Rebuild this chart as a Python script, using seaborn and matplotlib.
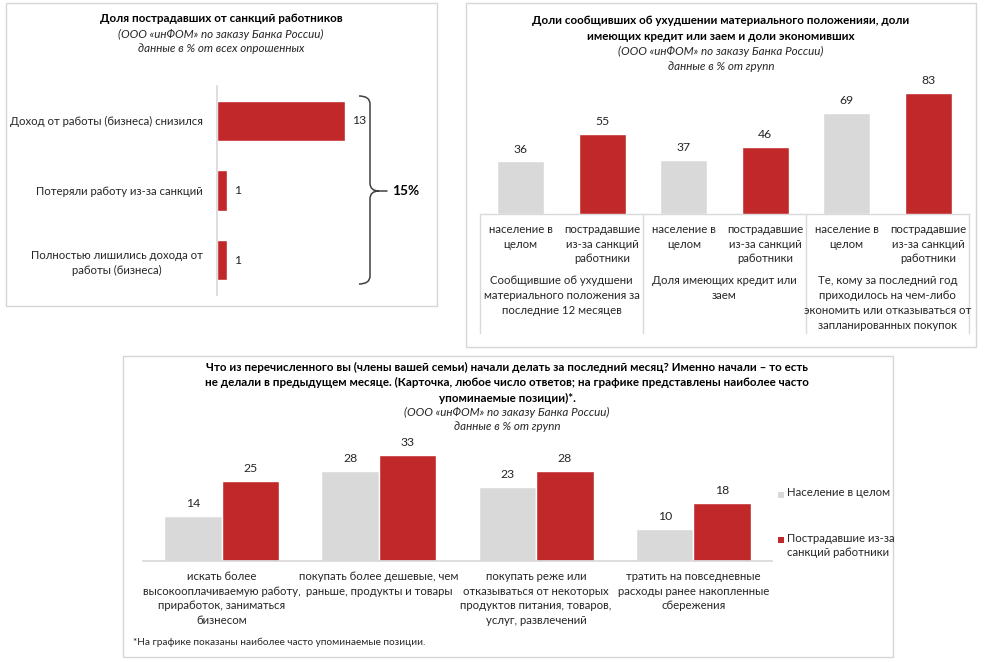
import matplotlib
matplotlib.use("Agg")
import matplotlib.pyplot as plt
import seaborn as sns
import pandas as pd
from matplotlib.patches import Rectangle, PathPatch
from matplotlib.path import Path

sns.set_theme(style="white")
plt.rcParams['font.family'] = ['Lato', 'DejaVu Sans']

W, H = 986, 662
RED = '#C0282A'
GRAY = '#D9D9D9'
TXT = '#262626'
BORDER = '#D6D6D6'
FS = 8.2
VFS = 8.8
LS = 1.42

# ---------------- data ----------------
p1_categories = ["Доход от работы (бизнеса) снизился",
                 "Потеряли работу из-за санкций",
                 "Полностью лишились дохода от\nработы (бизнеса)"]
p1_values = [13, 1, 1]
p1_total = "15%"

p2_bar_labels = ["население в\nцелом", "пострадавшие\nиз-за санкций\nработники"] * 3
p2_series = ["население в целом", "пострадавшие из-за санкций работники"] * 3
p2_values = [36, 55, 37, 46, 69, 83]
p2_groups = ["Сообщившие об ухудшени\nматериального положения за\nпоследние 12 месяцев",
             "Доля имеющих кредит или\nзаем",
             "Те, кому за последний год\nприходилось на чем-либо\nэкономить или отказываться от\nзапланированных покупок"]

p3_categories = ["искать более\nвысокооплачиваемую работу,\nприработок, заниматься\nбизнесом",
                 "покупать более дешевые, чем\nраньше, продукты и товары",
                 "покупать реже или\nотказываться от некоторых\nпродуктов питания, товаров,\nуслуг, развлечений",
                 "тратить на повседневные\nрасходы ранее накопленные\nсбережения"]
p3_series = ["Население в целом", "Пострадавшие из-за\nсанкций работники"]
p3_population = [14, 28, 23, 10]
p3_affected = [25, 33, 28, 18]

p1_title = ["Доля пострадавших от санкций работников"]
p1_sub = ["(ООО «инФОМ» по заказу Банка России)", "данные в % от всех опрошенных"]
p2_title = ["Доли сообщивших об ухудшении материального положенияи, доли",
            "имеющих кредит или заем и доли экономивших"]
p2_sub = ["(ООО «инФОМ» по заказу Банка России)", "данные в % от групп"]
p3_title = ["Что из перечисленного вы (члены вашей семьи) начали делать за последний месяц? Именно начали – то есть",
            "не делали в предыдущем месяце. (Карточка, любое число ответов; на графике представлены наиболее часто",
            "упоминаемые позиции)*."]
p3_sub = ["(ООО «инФОМ» по заказу Банка России)", "данные в % от групп"]
footnote = "*На графике показаны наиболее часто упоминаемые позиции."

# ---------------- figure ----------------
fig = plt.figure(figsize=(W / 100, H / 100), dpi=100)
fig.patch.set_facecolor('white')


def fax(x0, y0, x1, y1):
    return fig.add_axes([x0 / W, 1 - y1 / H, (x1 - x0) / W, (y1 - y0) / H])


ov = fax(0, 0, W, H)
ov.set_xlim(0, W)
ov.set_ylim(H, 0)
ov.axis('off')

# panel boxes
for (x0, y0, x1, y1) in [(6, 3, 437, 306), (466, 3, 976, 347), (123, 356, 893, 657)]:
    ov.add_patch(Rectangle((x0, y0), x1 - x0, y1 - y0, fill=False, ec=BORDER, lw=1))


def title_block(cx, ys_bold, bold_lines, ys_it, it_lines):
    for y, t in zip(ys_bold, bold_lines):
        ov.text(cx, y, t, ha='center', va='center', fontsize=8.4, fontweight='bold', color='black')
    for y, t in zip(ys_it, it_lines):
        ov.text(cx, y, t, ha='center', va='center', fontsize=8.4, fontstyle='italic', color=TXT)


title_block(221, [19], p1_title, [34, 48], p1_sub)
title_block(721, [20, 36], p2_title, [51, 66], p2_sub)
title_block(507, [367, 382, 398], p3_title, [412, 427], p3_sub)

# ---------------- panel 1 ----------------
ax1 = fax(217, 86, 437, 295)
df1 = pd.DataFrame({"category": p1_categories, "value": p1_values})
sns.barplot(data=df1, x="value", y="category", color=RED, width=0.58, orient='h',
            ax=ax1, saturation=1)
ax1.set_xlim(0, 22.3)
ax1.patch.set_alpha(0)
for s in ['top', 'right', 'bottom']:
    ax1.spines[s].set_visible(False)
ax1.spines['left'].set_color('#D9D9D9')
ax1.set_xticks([])
ax1.set_xlabel('')
ax1.set_ylabel('')
ax1.tick_params(axis='y', length=0, pad=10, labelsize=FS, labelcolor=TXT)
for lab in ax1.get_yticklabels():
    lab.set_multialignment('center')
    lab.set_linespacing(LS)
ax1.bar_label(ax1.containers[0], padding=5, fontsize=VFS, color=TXT)

# brace
verts = [(359, 96), (370, 96), (370, 104), (370, 183), (370, 191), (379, 191),
         (370, 191), (370, 199), (370, 276), (370, 284), (359, 284)]
codes = [Path.MOVETO, Path.CURVE3, Path.CURVE3, Path.LINETO, Path.CURVE3, Path.CURVE3,
         Path.CURVE3, Path.CURVE3, Path.LINETO, Path.CURVE3, Path.CURVE3]
ov.add_patch(PathPatch(Path(verts, codes), fill=False, ec='#404040', lw=1.1))
ov.plot([379, 387], [191, 191], color='#404040', lw=1.1)
ov.text(392, 191, p1_total, ha='left', va='center', fontsize=9.8, fontweight='bold', color='black')

# ---------------- panel 2 ----------------
ax2 = fax(480, 80, 969, 214)
df2 = pd.DataFrame({"pos": list(range(6)), "value": p2_values, "series": p2_series})
sns.barplot(data=df2, x="pos", y="value", hue="series", palette=[GRAY, RED], dodge=False,
            width=0.58, legend=False, ax=ax2, saturation=1)
ax2.set_ylim(0, 91.8)
ax2.set_xlim(-0.5, 5.5)
ax2.patch.set_alpha(0)
for s in ['top', 'right', 'left', 'bottom']:
    ax2.spines[s].set_visible(False)
ax2.set_yticks([])
ax2.set_xlabel('')
ax2.set_ylabel('')
ax2.set_xticks(range(6))
ax2.set_xticklabels(p2_bar_labels)
ax2.tick_params(axis='x', length=0, pad=7, labelsize=FS, labelcolor=TXT)
for lab in ax2.get_xticklabels():
    lab.set_linespacing(LS)
for c in ax2.containers:
    ax2.bar_label(c, padding=5, fontsize=VFS, color=TXT)

# group frame lines
LC = '#D9D9D9'
ov.plot([480, 969], [214, 214], color=LC, lw=1)
for x in [480, 643, 806, 969]:
    ov.plot([x, x], [214, 333], color=LC, lw=1)
for i, g in enumerate(p2_groups):
    cx = 480 + 163 * (i + 0.5)
    ov.text(cx, 275.5, g, ha='center', va='top', fontsize=FS, color=TXT, linespacing=LS,
            multialignment='center')

# ---------------- panel 3 ----------------
ax3 = fax(143, 440, 772, 561)
df3 = pd.DataFrame({
    "category": p3_categories * 2,
    "value": p3_population + p3_affected,
    "series": [p3_series[0]] * 4 + [p3_series[1]] * 4,
})
sns.barplot(data=df3, x="category", y="value", hue="series", palette=[GRAY, RED],
            width=0.73, legend=False, ax=ax3, saturation=1)
ax3.set_ylim(0, 37.8)
ax3.set_xlim(-0.5, 3.5)
ax3.patch.set_alpha(0)
for s in ['top', 'right', 'left']:
    ax3.spines[s].set_visible(False)
ax3.spines['bottom'].set_color('#D9D9D9')
ax3.set_yticks([])
ax3.set_xlabel('')
ax3.set_ylabel('')
ax3.tick_params(axis='x', length=0, pad=7, labelsize=FS, labelcolor=TXT)
for lab in ax3.get_xticklabels():
    lab.set_linespacing(LS)
    lab.set_multialignment('center')
for c in ax3.containers:
    ax3.bar_label(c, padding=5, fontsize=VFS, color=TXT)

# legend (manual)
for (ly, col, lab) in [(495, GRAY, p3_series[0]), (540, RED, p3_series[1])]:
    ov.add_patch(Rectangle((778, ly - 3), 6, 6, color=col, lw=0))
    ov.text(787, ly - 7.5, lab, ha='left', va='top', fontsize=FS, color=TXT, linespacing=LS)

ov.text(133, 642, footnote, ha='left', va='center', fontsize=7.2, color=TXT)

fig.savefig("out.png", dpi=100, facecolor='white')
